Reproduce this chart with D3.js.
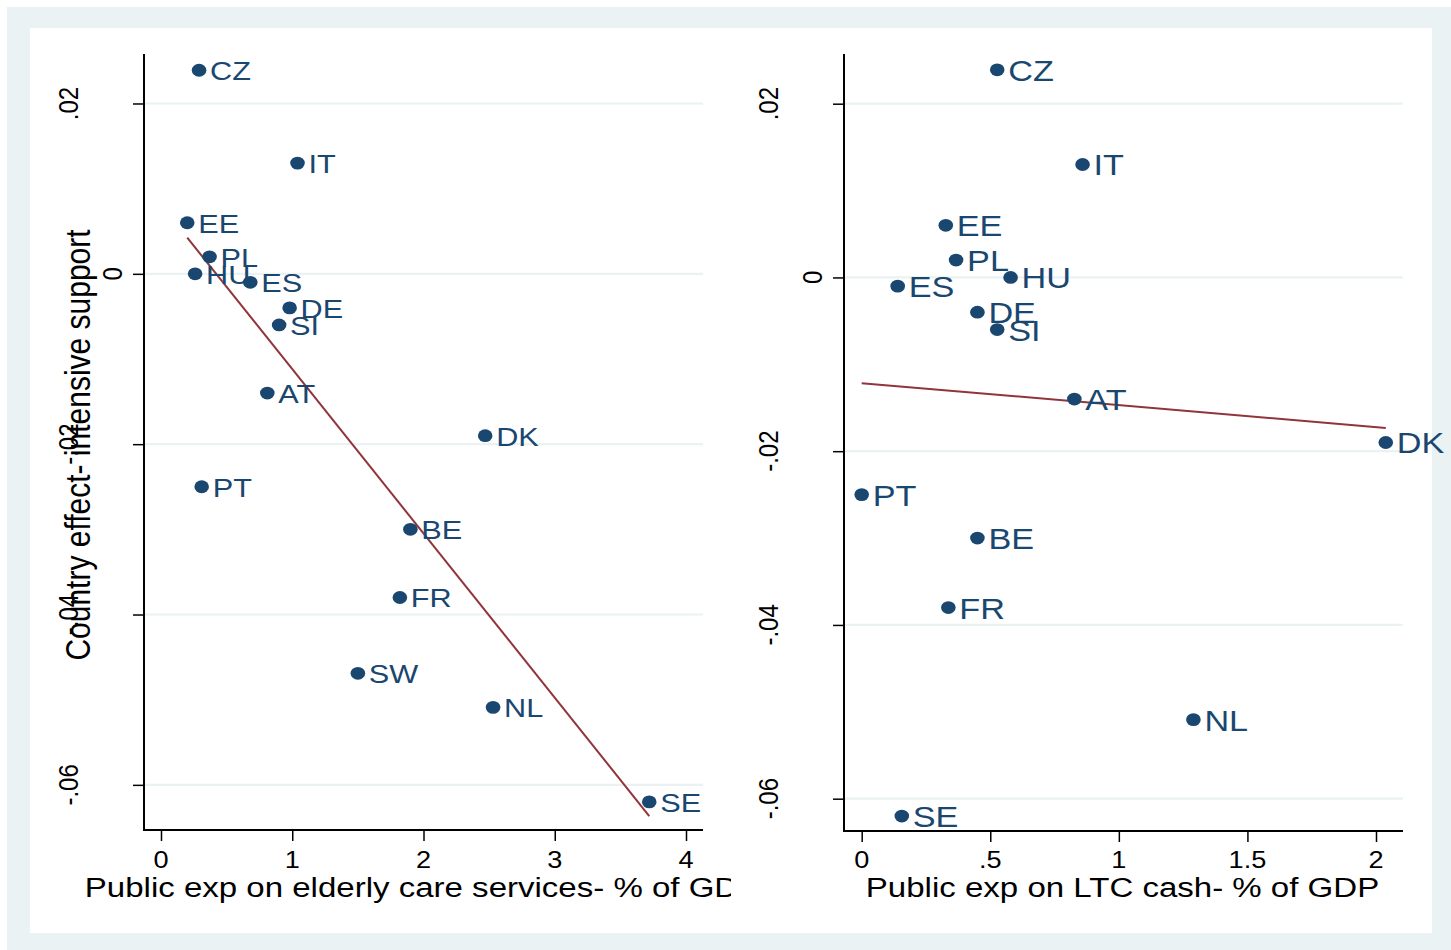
<!DOCTYPE html>
<html><head><meta charset="utf-8">
<script src="https://cdn.jsdelivr.net/npm/d3@7"></script>
<style>body{margin:0;background:#fff}svg{display:block}</style>
</head><body>
<script>
// ---- data ----
const countries = ["CZ","IT","EE","PL","HU","ES","DE","SI","AT","DK","PT","BE","FR","SW","NL","SE"];
const countryEffect = [0.0239,0.0130,0.0060,0.0020,0.0000,-0.0010,-0.0040,-0.0060,-0.0140,-0.0190,-0.0250,-0.0300,-0.0380,-0.0469,-0.0509,-0.0620];
const elderlyCareExp = [0.29,1.04,0.20,0.37,0.26,0.68,0.98,0.90,0.81,2.47,0.31,1.90,1.82,1.50,2.53,3.72];
const ltcCashExp = [0.527,0.859,0.327,0.367,0.579,0.140,0.450,0.527,0.827,2.038,0.000,0.450,0.337,null,1.290,0.156];
const xTicksLeft = [0,1,2,3,4];
const xTicksRight = [0,0.5,1,1.5,2];
const yTicks = [0.02,0,-0.02,-0.04,-0.06];
const yTitle = "Country effect- intensive support";
const xTitleLeft = "Public exp on elderly care services- % of GDP";
const xTitleRight = "Public exp on LTC cash- % of GDP";

// ---- style ----
const W = 1451, H = 950;
const FONT = "'Liberation Sans', Arial, Helvetica, sans-serif";
const NAVY = "#1a476f", MAROON = "#90353b", BG = "#eaf2f3", GRID = "#eaf2f3";
const SX = 1.18; // horizontal text stretch seen in the reference

const svg = d3.select("body").append("svg").attr("width", W).attr("height", H);
svg.append("rect").attr("x",0).attr("y",0).attr("width",W).attr("height",H).attr("fill","#fff");
svg.append("rect").attr("x",7).attr("y",7).attr("width",W-7).attr("height",H-7).attr("fill",BG);
svg.append("rect").attr("x",30).attr("y",28).attr("width",1402).attr("height",905).attr("fill","#fff");

const fmt = v => v === 0 ? "0" : String(+v.toFixed(4)).replace("0.", ".");

function panel(cfg){
  const clipId = "clip" + cfg.id;
  svg.append("clipPath").attr("id", clipId).append("rect")
    .attr("x", cfg.region[0]).attr("y", 0).attr("width", cfg.region[1]-cfg.region[0]).attr("height", H);
  const g = svg.append("g").attr("clip-path", `url(#${clipId})`);
  const x = d3.scaleLinear().domain(cfg.xDomain).range([cfg.x0, cfg.x1]);
  const y = d3.scaleLinear().domain(cfg.yDomain).range([cfg.y1, cfg.y0]);

  // gridlines
  g.append("g").selectAll("line").data(yTicks).join("line")
    .attr("x1", cfg.x0).attr("x2", cfg.x1)
    .attr("y1", d => y(d)).attr("y2", d => y(d))
    .attr("stroke", GRID).attr("stroke-width", 2.2);

  // y axis
  const yAxis = d3.axisLeft(y).tickValues(yTicks).tickSize(11).tickFormat("");
  const ya = g.append("g").attr("transform", `translate(${cfg.x0},0)`).call(yAxis);
  ya.select(".domain").remove();
  ya.selectAll(".tick line").attr("stroke","#000").attr("stroke-width",1.5);
  g.append("line").attr("x1",cfg.x0).attr("x2",cfg.x0).attr("y1",cfg.y0).attr("y2",cfg.y1+1)
    .attr("stroke","#000").attr("stroke-width",2);
  g.append("g").selectAll("text").data(yTicks).join("text")
    .attr("transform", d => `translate(${cfg.x0 - (d === 0 ? 22 : 66.5)},${y(d)}) rotate(-90) scale(1,${SX})`)
    .attr("text-anchor","middle").attr("font-family",FONT).attr("font-size",24).attr("fill","#000")
    .text(fmt);

  // x axis
  const xAxis = d3.axisBottom(x).tickValues(cfg.xTicks).tickSize(11).tickFormat("");
  const xa = g.append("g").attr("transform", `translate(0,${cfg.y1})`).call(xAxis);
  xa.select(".domain").remove();
  xa.selectAll(".tick line").attr("stroke","#000").attr("stroke-width",1.5);
  g.append("line").attr("x1",cfg.x0-1).attr("x2",cfg.x1).attr("y1",cfg.y1).attr("y2",cfg.y1)
    .attr("stroke","#000").attr("stroke-width",2);
  g.append("g").selectAll("text").data(cfg.xTicks).join("text")
    .attr("transform", d => `translate(${x(d)},868) scale(${SX},1)`)
    .attr("text-anchor","middle").attr("font-family",FONT).attr("font-size",23).attr("fill","#000")
    .text(fmt);

  // axis titles
  g.append("text").attr("transform", `translate(${(cfg.x0+cfg.x1)/2 - 1},897) scale(${SX},1)`)
    .attr("text-anchor","middle").attr("font-family",FONT).attr("font-size",28).attr("fill","#000")
    .text(cfg.xTitle);
  if (cfg.yTitle) {
    g.append("text").attr("transform", `translate(90,${(cfg.y0+cfg.y1)/2 + 3}) rotate(-90) scale(1,${SX})`)
      .attr("text-anchor","middle").attr("font-family",FONT).attr("font-size",30).attr("fill","#000")
      .text(cfg.yTitle);
  }

  // data
  const pts = countries.map((c,i) => ({c, xv: cfg.xs[i], yv: countryEffect[i]})).filter(d => d.xv != null);

  // OLS fit line
  const mx = d3.mean(pts, d => d.xv), my = d3.mean(pts, d => d.yv);
  const b = d3.sum(pts, d => (d.xv-mx)*(d.yv-my)) / d3.sum(pts, d => (d.xv-mx)**2);
  const a = my - b*mx;
  const [xmin, xmax] = d3.extent(pts, d => d.xv);
  g.append("line").attr("x1", x(xmin)).attr("y1", y(a+b*xmin)).attr("x2", x(xmax)).attr("y2", y(a+b*xmax))
    .attr("stroke", MAROON).attr("stroke-width", 2);

  // markers
  g.append("g").selectAll("ellipse").data(pts).join("ellipse")
    .attr("cx", d => x(d.xv)).attr("cy", d => y(d.yv)).attr("rx", 7.3).attr("ry", 6.4).attr("fill", NAVY);
  g.append("g").selectAll("text").data(pts).join("text")
    .attr("transform", d => `translate(${x(d.xv)+11},${y(d.yv) + 0.36*cfg.labelSize + 0.5}) scale(${SX},1)`)
    .attr("font-family",FONT).attr("font-size",cfg.labelSize).attr("fill",NAVY)
    .text(d => d.c);
}

panel({id:"L", region:[0,731], x0:144, x1:703, y0:54, y1:830,
  xDomain:[-0.1295, 4.1295], yDomain:[-0.0653, 0.02581], xTicks:xTicksLeft,
  xs: elderlyCareExp, xTitle: xTitleLeft, yTitle: yTitle, labelSize: 26});
panel({id:"R", region:[731,W], x0:844, x1:1403, y0:54, y1:831,
  xDomain:[-0.0688, 2.105], yDomain:[-0.06372, 0.02572], xTicks:xTicksRight,
  xs: ltcCashExp, xTitle: xTitleRight, yTitle: null, labelSize: 29});
</script>
</body></html>
